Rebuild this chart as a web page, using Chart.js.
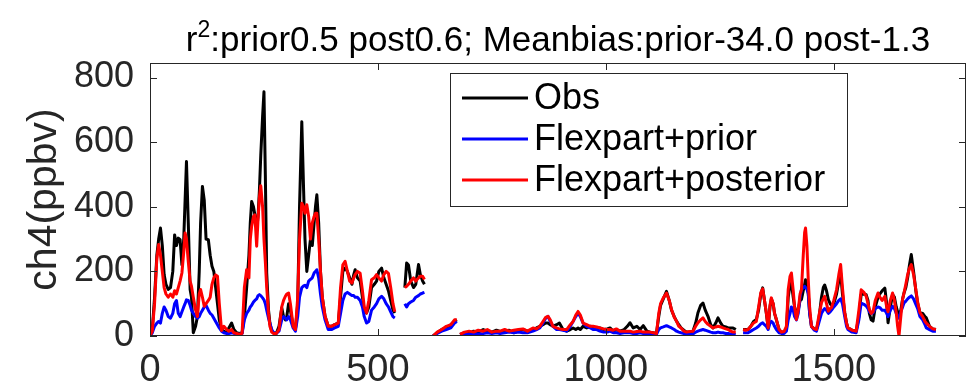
<!DOCTYPE html>
<html>
<head>
<meta charset="utf-8">
<script src="https://cdn.jsdelivr.net/npm/chart.js@4.4.1/dist/chart.umd.min.js"></script>
<style>
  html, body { margin: 0; padding: 0; background: #fff; }
  #wrap { width: 969px; height: 387px; }
</style>
</head>
<body>
<div id="wrap"><canvas id="ch4Chart" width="969" height="387"></canvas></div>
<script>
// Sample index along the record (null rows break the lines at data gaps)
const sampleIdx = [
  0, 5, 10, 15, 19, 23, 27, 31, 35, 40, 45, 50, 54, 58, 62, 66, 70, 74, 77, 80,
  84, 88, 91, 95, 100, 104, 108, 111, 115, 119, 123, 128, 132, 136, 140, 144, 148, 152, 157, 162,
  168, 173, 179, 184, 190, 196, 202, 207, 212, 217, 220, 223, 227, 230, 234, 237, 240, 243, 247, 250,
  253, 256, 260, 263, 267, 271, 277, 283, 289, 293, 297, 300, 304, 308, 314, 319, 324, 328, 333, 337,
  340, 344, 348, 352, 356, 360, 363, 366, 370, 374, 378, 384, 391, 398, 405, 413, 418, 423, 428, 433,
  438, 443, 447, 450, 455, 461, 466, 470, 475, 480, 486, 492, 497, 502, 508, 513, 518, 523, 528, 533,
  537, 545, 559, 563, 567, 572, 578, 583, 589, 593, 598, 602, 610, 621, 630, 640, 650, 660, 668, 673,
  677, 680, 690, 700, 710, 720, 731, 740, 750, 760, 768, 778, 788, 798, 808, 818, 828, 840, 848, 855,
  862, 868, 873, 878, 884, 892, 898, 906, 914, 922, 928, 934, 939, 944, 950, 958, 966, 972, 980, 987,
  995, 1003, 1009, 1016, 1023, 1031, 1040, 1047, 1053, 1060, 1068, 1075, 1082, 1090, 1097, 1104, 1111, 1116, 1120, 1126,
  1133, 1139, 1144, 1150, 1155, 1160, 1165, 1171, 1177, 1184, 1191, 1197, 1202, 1208, 1213, 1218, 1224, 1230, 1235, 1241,
  1246, 1252, 1257, 1263, 1268, 1274, 1279, 1285, 1292, 1301, 1306, 1312, 1318, 1324, 1330, 1335, 1340, 1344, 1348, 1352,
  1356, 1360, 1363, 1367, 1370, 1374, 1380, 1385, 1391, 1396, 1400, 1404, 1407, 1411, 1414, 1418, 1422, 1426, 1429, 1433,
  1436, 1438, 1441, 1444, 1447, 1451, 1457, 1462, 1467, 1473, 1477, 1480, 1484, 1488, 1492, 1495, 1500, 1506, 1511, 1515,
  1519, 1524, 1528, 1531, 1540, 1549, 1555, 1560, 1566, 1571, 1575, 1578, 1582, 1586, 1591, 1597, 1601, 1606, 1612, 1616,
  1619, 1624, 1629, 1633, 1637, 1640, 1643, 1647, 1651, 1654, 1658, 1662, 1666, 1670, 1675, 1680, 1684, 1689, 1695, 1700,
  1703, 1710, 1717, 1724
];

// Observed CH4 (ppbv)
const obsCh4 = [
  0, 20, 120, 250, 300, 334, 280, 190, 160, 144, 150, 200, 313, 280, 303, 298, 220, 300, 420, 540,
  350, 144, 120, 10, 30, 60, 200, 350, 463, 420, 300, 298, 250, 216, 200, 150, 100, 50, 20, 15,
  10, 25, 40, 20, 10, 8, 10, 60, 150, 250, 350, 416, 400, 375, 330, 370, 450, 560, 680, 756,
  500, 195, 80, 40, 15, 10, 8, 30, 87, 60, 50, 60, 100, 80, 30, 20, 100, 400, 663, 450,
  300, 200, 250, 300, 280, 350, 400, 437, 350, 200, 120, 61, 30, 30, 35, 40, 120, 200, 210, 200,
  180, 160, 190, 205, 180, 170, 120, 80, 71, 90, 150, 160, 170, 200, 210, 180, 160, 140, 110, 80,
  71, null, 150, 226, 220, 170, 150, 160, 221, 190, 170, 160, null, 0, 10, 20, 25, 35, 45, 50,
  null, 5, 10, 8, 15, 12, 20, 15, 12, 18, 14, 12, 18, 10, 15, 20, 15, 20, 25, 30,
  35, 40, 40, 35, 30, 35, 40, 20, 15, 20, 25, 20, 25, 20, 30, 25, 30, 28, 25, 25,
  20, 22, 25, 15, 20, 15, 20, 30, 41, 25, 30, 20, 32, 15, 12, 10, 9, 60, 95, 115,
  138, 110, 80, 60, 46, 35, 25, 18, 12, 12, 15, 40, 72, 95, 102, 80, 61, 35, 25, 40,
  56, 40, 30, 28, 25, 25, 25, 20, null, 20, 20, 20, 30, 45, 51, 80, 130, 149, 110, 70,
  25, 90, 115, 100, 70, 51, 20, 12, 12, 20, 120, 160, 164, 120, 90, 72, 80, 110, 113, 140,
  160, 174, 165, 130, 70, 30, 22, 20, 50, 120, 150, 158, 140, 113, 100, 95, 100, 130, 170, 195,
  130, 72, 40, 25, 18, 15, 60, 128, 130, 128, 110, 70, 50, 46, 90, 120, 130, 140, 148, 100,
  41, 90, 128, 120, 90, 75, 61, 80, 115, 133, 150, 180, 220, 252, 200, 140, 100, 72, 70, 60,
  56, 30, 22, 20
];

// FLEXPART with prior fluxes
const priorCh4 = [
  0, 10, 30, 40, 45, 40, 70, 90, 80, 60, 55, 70, 100, 110, 70, 60, 75, 90, 100, 112,
  110, 95, 80, 70, 60, 55, 60, 70, 80, 90, 95, 80, 70, 65, 55, 45, 35, 25, 15, 10,
  8, 8, 10, 8, 6, 5, 8, 50, 70, 80, 90, 95, 105, 110, 115, 125, 128, 125, 118, 112,
  100, 80, 55, 40, 20, 10, 8, 15, 50, 60, 55, 50, 60, 50, 25, 15, 60, 120, 150, 155,
  157, 150, 170, 175, 180, 195, 200, 205, 180, 130, 90, 50, 20, 20, 25, 30, 70, 110, 130, 135,
  130, 125, 125, 120, 120, 110, 90, 60, 40, 45, 80, 90, 100, 115, 123, 115, 100, 90, 75, 60,
  56, null, 100, 90, 100, 105, 110, 120, 125, 130, 133, 135, null, 0, 8, 15, 20, 25, 40, 45,
  null, 3, 5, 6, 8, 6, 8, 10, 8, 10, 8, 10, 12, 10, 12, 10, 10, 15, 20, 25,
  40, 55, 61, 45, 30, 20, 20, 18, 15, 30, 45, 60, 71, 60, 40, 30, 25, 20, 20, 15,
  12, 12, 15, 10, 10, 8, 10, 10, 10, 8, 8, 10, 8, 6, 5, 5, 5, 20, 25, 28,
  32, 28, 25, 20, 15, 12, 10, 8, 6, 5, 6, 12, 15, 18, 20, 18, 15, 12, 10, 10,
  12, 10, 10, 8, 8, 6, 6, 5, null, 10, 10, 10, 15, 20, 25, 30, 38, 41, 35, 30,
  20, 40, 45, 40, 30, 20, 10, 8, 8, 15, 50, 70, 90, 80, 60, 50, 70, 120, 143, 150,
  154, 150, 145, 133, 70, 30, 18, 15, 40, 70, 80, 85, 80, 70, 75, 80, 90, 100, 110, 115,
  100, 60, 30, 20, 12, 10, 50, 102, 98, 93, 85, 75, 70, 72, 85, 90, 88, 80, 80, 70,
  60, 80, 92, 85, 70, 60, 55, 75, 90, 102, 108, 115, 120, 124, 115, 98, 85, 60, 50, 35,
  25, 20, 15, 15
];

// FLEXPART with posterior fluxes
const postCh4 = [
  0, 15, 100, 240, 283, 250, 200, 150, 130, 120, 130, 120, 140, 130, 150, 170, 195, 260, 319, 300,
  230, 170, 154, 120, 80, 60, 130, 144, 120, 92, 100, 110, 120, 160, 180, 189, 185, 100, 17, 30,
  20, 15, 20, 10, 8, 5, 8, 150, 205, 180, 300, 340, 370, 375, 278, 360, 430, 465, 400, 300,
  230, 150, 70, 30, 12, 8, 8, 20, 90, 110, 123, 130, 133, 100, 30, 20, 120, 300, 411, 400,
  380, 406, 370, 300, 350, 370, 380, 380, 300, 200, 120, 61, 30, 30, 35, 40, 150, 220, 231, 200,
  170, 164, 180, 190, 200, 194, 140, 90, 71, 110, 174, 180, 190, 180, 170, 190, 200, 194, 150, 100,
  75, null, 150, 154, 160, 170, 180, 170, 180, 185, 185, 175, null, 0, 12, 20, 30, 35, 50, 50,
  null, 5, 12, 15, 12, 18, 15, 20, 12, 15, 15, 20, 15, 18, 20, 22, 15, 25, 22, 30,
  45, 58, 61, 50, 30, 25, 22, 20, 20, 35, 45, 65, 76, 65, 40, 35, 30, 30, 28, 25,
  22, 20, 20, 18, 22, 15, 15, 15, 15, 12, 14, 15, 12, 12, 12, 10, 8, 70, 100, 118,
  133, 110, 82, 58, 46, 30, 25, 15, 12, 14, 15, 30, 41, 50, 56, 45, 36, 30, 25, 28,
  30, 28, 25, 22, 20, 15, 12, 12, null, 20, 18, 20, 30, 40, 45, 90, 135, 146, 110, 72,
  25, 95, 118, 100, 70, 51, 20, 12, 14, 30, 144, 185, 195, 140, 90, 51, 80, 130, 143, 250,
  320, 334, 280, 174, 90, 30, 22, 20, 60, 103, 115, 123, 100, 77, 85, 88, 110, 143, 190, 221,
  150, 72, 40, 25, 18, 15, 80, 143, 135, 123, 100, 82, 70, 75, 110, 133, 120, 110, 123, 90,
  75, 110, 133, 110, 72, 30, 0, 60, 115, 133, 160, 190, 210, 221, 190, 143, 105, 72, 60, 45,
  40, 30, 22, 20
];

const xTicks = [0, 500, 1000, 1500];
const yTicks = [0, 200, 400, 600, 800];
const seriesNames = ['Obs', 'Flexpart+prior', 'Flexpart+posterior'];
const seriesColors = ['#000000', '#0000ff', '#ff0000'];

const axisColor = '#262626';
const fontFamily = '"Liberation Sans", Arial, Helvetica, sans-serif';

function toPoints(values) {
  return sampleIdx.map((x, i) => ({ x: x, y: values[i] }));
}

// MATLAB-style boxed axes: inward ticks on all four sides, title and legend inside the axes
const boxPlugin = {
  id: 'boxPlugin',
  afterDraw(chart) {
    const { ctx, chartArea: a, scales } = chart;
    const tick = 7;
    ctx.save();
    ctx.strokeStyle = axisColor;
    ctx.lineWidth = 1;
    ctx.strokeRect(a.left + 0.5, a.top + 0.5, a.right - a.left - 1, a.bottom - a.top - 1);
    ctx.beginPath();
    xTicks.forEach(v => {
      const px = Math.round(scales.x.getPixelForValue(v)) + 0.5;
      ctx.moveTo(px, a.bottom); ctx.lineTo(px, a.bottom - tick);
      ctx.moveTo(px, a.top); ctx.lineTo(px, a.top + tick);
    });
    yTicks.forEach(v => {
      const py = Math.round(scales.y.getPixelForValue(v)) + 0.5;
      ctx.moveTo(a.left, py); ctx.lineTo(a.left + tick, py);
      ctx.moveTo(a.right, py); ctx.lineTo(a.right - tick, py);
    });
    ctx.stroke();

    // title with superscript
    const cx = (a.left + a.right) / 2;
    const base = 51;
    const mainFont = '35px ' + fontFamily;
    const supFont = '23px ' + fontFamily;
    const head = 'r';
    const sup = '2';
    const tail = ':prior0.5 post0.6; Meanbias:prior-34.0 post-1.3';
    ctx.font = mainFont;
    const wHead = ctx.measureText(head).width;
    const wTail = ctx.measureText(tail).width;
    ctx.font = supFont;
    const wSup = ctx.measureText(sup).width;
    let x0 = cx - (wHead + wSup + wTail) / 2;
    ctx.fillStyle = '#000';
    ctx.textBaseline = 'alphabetic';
    ctx.textAlign = 'left';
    ctx.font = mainFont;
    ctx.fillText(head, x0, base);
    ctx.font = supFont;
    ctx.fillText(sup, x0 + wHead, base - 14);
    ctx.font = mainFont;
    ctx.fillText(tail, x0 + wHead + wSup, base);

    // legend box
    const lx = 450, ly = 73, lw = 397, lh = 133;
    ctx.fillStyle = '#fff';
    ctx.fillRect(lx, ly, lw, lh);
    ctx.strokeStyle = axisColor;
    ctx.lineWidth = 1;
    ctx.strokeRect(lx + 0.5, ly + 0.5, lw, lh);
    ctx.font = '36px ' + fontFamily;
    ctx.textBaseline = 'middle';
    seriesNames.forEach((name, i) => {
      const y = ly + 25 + i * 41;
      ctx.strokeStyle = seriesColors[i];
      ctx.lineWidth = 3;
      ctx.beginPath();
      ctx.moveTo(lx + 12, y); ctx.lineTo(lx + 78, y);
      ctx.stroke();
      ctx.fillStyle = '#000';
      ctx.fillText(name, lx + 84, y + 1);
    });
    ctx.restore();
  }
};

const ctx = document.getElementById('ch4Chart');
new Chart(ctx, {
  type: 'line',
  data: {
    datasets: [
      { label: seriesNames[0], data: toPoints(obsCh4), borderColor: seriesColors[0], order: 3 },
      { label: seriesNames[1], data: toPoints(priorCh4), borderColor: seriesColors[1], order: 2 },
      { label: seriesNames[2], data: toPoints(postCh4), borderColor: seriesColors[2], order: 1 }
    ]
  },
  options: {
    responsive: false,
    animation: false,
    devicePixelRatio: 1,
    spanGaps: false,
    layout: { padding: { top: 63, right: 3, bottom: 0, left: 0 } },
    elements: {
      point: { radius: 0 },
      line: { borderWidth: 3, tension: 0, borderJoinStyle: 'round' }
    },
    plugins: {
      legend: { display: false },
      title: { display: false },
      tooltip: { enabled: false }
    },
    scales: {
      x: {
        type: 'linear',
        min: 0,
        max: 1790,
        afterBuildTicks: s => { s.ticks = xTicks.map(v => ({ value: v })); },
        afterFit: s => { s.height = 51; },
        grid: { display: false },
        border: { display: false },
        ticks: {
          color: axisColor,
          padding: 4,
          maxRotation: 0,
          callback: v => String(v),
          font: { family: fontFamily, size: 38 }
        }
      },
      y: {
        min: 0,
        max: 845,
        afterBuildTicks: s => { s.ticks = yTicks.map(v => ({ value: v })); },
        afterFit: s => { s.width = 150; },
        grid: { display: false },
        border: { display: false },
        ticks: {
          color: axisColor,
          padding: 8,
          font: { family: fontFamily, size: 36 }
        },
        title: {
          display: true,
          text: 'ch4(ppbv)',
          color: axisColor,
          padding: { top: 20, bottom: 0 },
          font: { family: fontFamily, size: 41 }
        }
      }
    }
  },
  plugins: [boxPlugin]
});
</script>
</body>
</html>
